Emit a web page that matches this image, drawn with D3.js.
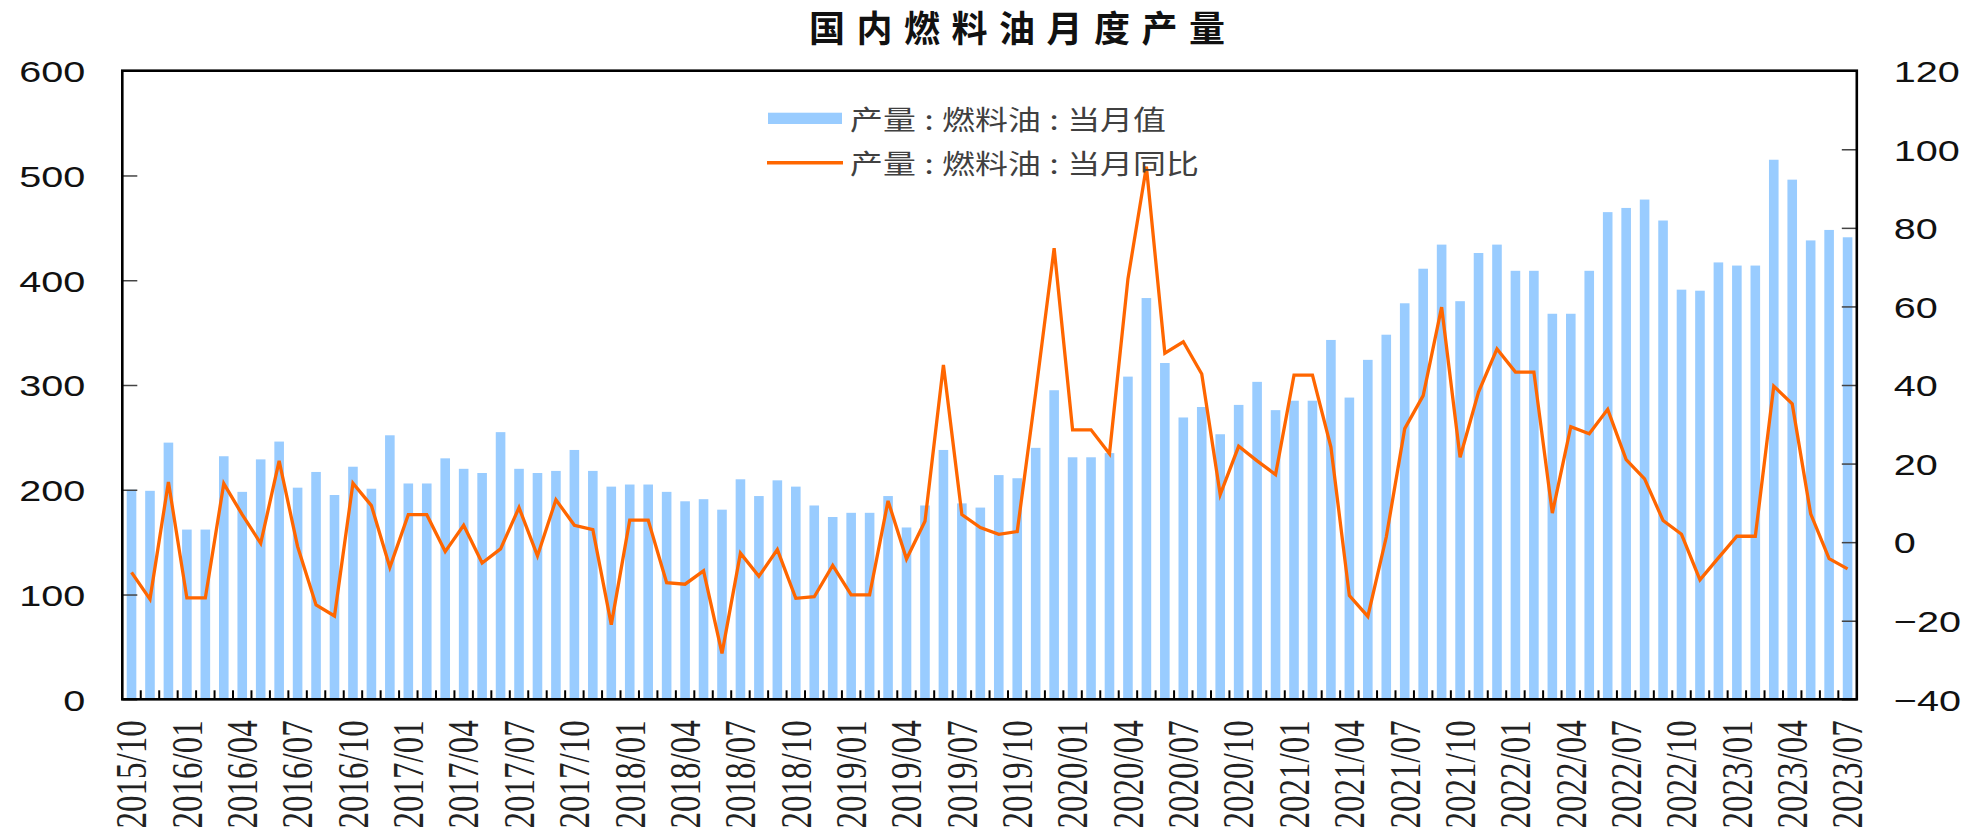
<!DOCTYPE html>
<html><head><meta charset="utf-8">
<script src="https://cdn.jsdelivr.net/npm/d3@7"></script>
<style>body{margin:0;background:#fff}</style>
</head><body>
<svg id="c" width="1969" height="833"></svg>
<script>
const months = [
 "2015/10","2015/11","2015/12",
 "2016/01","2016/02","2016/03","2016/04","2016/05","2016/06","2016/07","2016/08","2016/09","2016/10","2016/11","2016/12",
 "2017/01","2017/02","2017/03","2017/04","2017/05","2017/06","2017/07","2017/08","2017/09","2017/10","2017/11","2017/12",
 "2018/01","2018/02","2018/03","2018/04","2018/05","2018/06","2018/07","2018/08","2018/09","2018/10","2018/11","2018/12",
 "2019/01","2019/02","2019/03","2019/04","2019/05","2019/06","2019/07","2019/08","2019/09","2019/10","2019/11","2019/12",
 "2020/01","2020/02","2020/03","2020/04","2020/05","2020/06","2020/07","2020/08","2020/09","2020/10","2020/11","2020/12",
 "2021/01","2021/02","2021/03","2021/04","2021/05","2021/06","2021/07","2021/08","2021/09","2021/10","2021/11","2021/12",
 "2022/01","2022/02","2022/03","2022/04","2022/05","2022/06","2022/07","2022/08","2022/09","2022/10","2022/11","2022/12",
 "2023/01","2023/02","2023/03","2023/04","2023/05","2023/06","2023/07"
];
// 产量:燃料油:当月值 (left axis)
const output = [
 200,199,245,162,162,232,198,229,246,202,217,195,222,201,252,206,206,230,220,216,255,220,216,218,238,218,203,205,205,198,189,
 191,181,210,194,209,203,185,174,178,178,194,164,185,238,187,183,214,211,240,
 295,231,231,235,308,383,321,269,279,253,281,
 303,276,285,285,343,288,324,348,378,411,434,380,426,434,409,409,368,368,409,465,469,477,457,391,390,417,414,414,515,496,438,448,441
];
// 产量:燃料油:当月同比 (right axis)
const yoy = [
 -7.7,-14.5,15.3,-14.2,-14.2,14.9,7,-0.3,20.7,-1.1,-16,-18.8,15,9.3,-6.4,7,7,-2.4,4.3,-5.3,-1.7,8.8,-3.5,10.8,4.3,3.2,-21,5.6,5.6,-10.3,-10.7,
 -7.3,-28.3,-2.8,-8.7,-1.9,-14.3,-13.9,-5.9,-13.4,-13.4,10.5,-4.3,5.3,45.1,7,3.7,2,2.7,38,
 74.8,28.6,28.6,22.5,67,95.6,48.1,51,42.8,12.1,24.4,
 20.7,17.2,42.5,42.5,24.2,-13.6,-18.9,1.3,28.9,37.3,59.8,21.6,38.2,49.2,43.3,43.3,7.4,29.4,27.6,33.8,21,16.1,5.5,2,-9.6,-4,1.5,1.5,39.7,35.2,7.2,-4.2,-6.8
];
const tickLabels = months.filter((d,i)=>i%3===0);
const leftTicks = [0,100,200,300,400,500,600];
const rightTicks = [-40,-20,0,20,40,60,80,100,120];
const titleText = "国内燃料油月度产量";
const legendNames = ["产量:燃料油:当月值","产量:燃料油:当月同比"];

const L=122.3, R=1856.8, T=70.7, B=699.3;
const SX = 1.32;
const svg = d3.select('#c');

const x = d3.scaleBand().domain(months).range([L,R]).paddingInner(0.48).paddingOuter(0.24);
const bw = x.bandwidth();
const yL = d3.scaleLinear().domain([0,600]).range([B,T]);
const yR = d3.scaleLinear().domain([-40,120]).range([B,T]);

// bars
svg.append('g').selectAll('rect').data(months).join('rect')
  .attr('x', d=>x(d)).attr('width', bw)
  .attr('y', (d,i)=>yL(output[i])).attr('height',(d,i)=>B-yL(output[i]))
  .attr('fill','#99ccff');

// x boundary ticks
const step = x.step();
svg.append('g').selectAll('line').data(months.slice(1)).join('line')
  .attr('x1', d=>x(d)-step*x.paddingInner()/2).attr('x2', d=>x(d)-step*x.paddingInner()/2)
  .attr('y1', B).attr('y2', B-9).attr('stroke','#000').attr('stroke-width',2);

// left axis
const gl = svg.append('g').attr('transform',`translate(${L},0)`)
  .call(d3.axisLeft(yL).tickValues(leftTicks).tickSize(-15).tickFormat(d3.format('d')));
gl.select('.domain').remove();
gl.selectAll('.tick line').attr('stroke','#444').attr('stroke-width',1.5);
gl.selectAll('.tick text').attr('x',null).attr('dy',null)
  .attr('transform',`translate(-37,0) scale(${SX},1)`)
  .attr('dy','0.36em').attr('text-anchor','end')
  .attr('font-family','"Liberation Sans", Arial, sans-serif').attr('font-size',30).attr('fill','#111');

// right axis
const gr = svg.append('g').attr('transform',`translate(${R},0)`)
  .call(d3.axisRight(yR).tickValues(rightTicks).tickSize(-15).tickFormat(d3.format('d')));
gr.select('.domain').remove();
gr.selectAll('.tick line').attr('stroke','#444').attr('stroke-width',1.5);
gr.selectAll('.tick text').attr('x',null).attr('dy',null)
  .attr('transform',`translate(37,0) scale(${SX},1)`)
  .attr('dy','0.36em').attr('text-anchor','start')
  .attr('font-family','"Liberation Sans", Arial, sans-serif').attr('font-size',30).attr('fill','#111');

// bottom axis labels
const gb = svg.append('g').attr('transform',`translate(0,${B})`)
  .call(d3.axisBottom(x).tickValues(tickLabels).tickSize(0));
gb.select('.domain').remove();
gb.selectAll('.tick text').attr('y',null).attr('dy',null)
  .attr('transform',`translate(0,21) scale(${SX},1) rotate(-90)`)
  .attr('dy','0.34em').attr('text-anchor','end')
  .attr('font-family','"Liberation Serif", "Times New Roman", serif').attr('font-size',33).attr('fill','#222');

// line
svg.append('path').datum(yoy)
  .attr('fill','none').attr('stroke','#ff6600').attr('stroke-width',3.3)
  .attr('d', d3.line().x((d,i)=>x(months[i])+bw/2).y(d=>yR(d)));

// frame
svg.append('rect').attr('x',L).attr('y',T).attr('width',R-L).attr('height',B-T)
  .attr('fill','none').attr('stroke','#000').attr('stroke-width',2.6);

// title
svg.append('text').attr('x',809).attr('y',42)
  .attr('font-family','"Noto Sans CJK SC", sans-serif').attr('font-weight','bold')
  .attr('font-size',36).attr('letter-spacing',11.5).attr('fill','#111').text(titleText);

// legend
const lg = svg.append('g');
lg.append('rect').attr('x',768).attr('y',112.7).attr('width',74).attr('height',11.3).attr('fill','#99ccff');
lg.append('line').attr('x1',767).attr('x2',843).attr('y1',162.7).attr('y2',162.7)
  .attr('stroke','#ff6600').attr('stroke-width',3.5);
const legY = [129.5, 173.5];
legendNames.forEach((name,k)=>{
  const t = lg.append('text').attr('transform',`translate(850,${legY[k]}) scale(1.22,1)`)
    .attr('font-family','"Noto Sans CJK SC", sans-serif').attr('font-size',27).attr('fill','#404040');
  const parts = name.split(':');
  parts.forEach((p,j)=>{
    if(j>0){ t.append('tspan').attr('dx',7).text(':'); t.append('tspan').attr('dx',7).text(p); }
    else t.append('tspan').text(p);
  });
});
</script>
</body></html>
